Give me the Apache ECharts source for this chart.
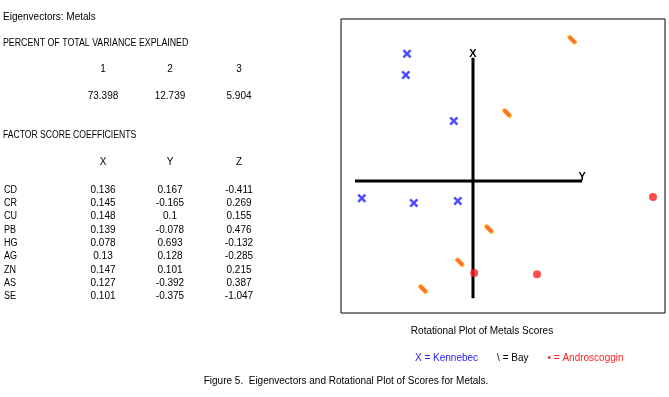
<!DOCTYPE html>
<html>
<head>
<meta charset="utf-8">
<script src="https://cdn.jsdelivr.net/npm/echarts@6/dist/echarts.min.js"></script>
<style>
  html, body { margin: 0; padding: 0; background: #fff; }
  #chart { width: 669px; height: 397px; }
</style>
</head>
<body>
<div id="chart"></div>
<script>
"use strict";

// percent of total variance
var varHeaders = ["1", "2", "3"];
var varValues = ["73.398", "12.739", "5.904"];

// factor score coefficients
var coefHeaders = ["X", "Y", "Z"];
var metals = ["CD", "CR", "CU", "PB", "HG", "AG", "ZN", "AS", "SE"];
var coefX = ["0.136", "0.145", "0.148", "0.139", "0.078", "0.13", "0.147", "0.127", "0.101"];
var coefY = ["0.167", "-0.165", "0.1", "-0.078", "0.693", "0.128", "0.101", "-0.392", "-0.375"];
var coefZ = ["-0.411", "0.269", "0.155", "0.476", "-0.132", "-0.285", "0.215", "0.387", "-1.047"];

// rotational plot scores
var kennebec = [[-1.65, 3.18], [-1.68, 2.65], [-0.48, 1.5], [-2.78, -0.43], [-1.48, -0.55], [-0.38, -0.5]];
var bay = [[2.48, 3.53], [0.85, 1.7], [0.4, -1.2], [-0.33, -2.03], [-1.25, -2.7]];
var androscoggin = [[4.5, -0.4], [0.03, -2.3], [1.6, -2.33]];

// drawn axes of the rotational plot
var hAxisEnds = [[-2.95, 0], [2.73, 0]];
var vAxisEnds = [[0, -2.93], [0, 3.08]];

var chart = echarts.init(document.getElementById("chart"));
var FONT = "Liberation Sans";

function txt(x, y, s, align, sx) {
  return {
    type: "text",
    x: x,
    y: y,
    scaleX: sx || 1,
    style: {
      text: s,
      x: 0,
      y: 0,
      textAlign: align || "left",
      textVerticalAlign: "middle",
      font: "10px '" + FONT + "'",
      fill: "#000"
    }
  };
}

var cols = [103, 170, 239];
var texts = [];
texts.push(txt(3, 17, "Eigenvectors: Metals"));
texts.push(txt(3, 43, "PERCENT OF TOTAL VARIANCE EXPLAINED", "left", 0.88));
varHeaders.forEach(function (h, i) {
  texts.push(txt(cols[i], 69, h, "center"));
  texts.push(txt(cols[i], 96, varValues[i], "center"));
});
texts.push(txt(3, 135, "FACTOR SCORE COEFFICIENTS", "left", 0.86));
coefHeaders.forEach(function (h, i) {
  texts.push(txt(cols[i], 162, h, "center"));
});
metals.forEach(function (m, i) {
  var y = 190 + i * 13.3;
  texts.push(txt(4, y, m, "left", 0.9));
  texts.push(txt(cols[0], y, coefX[i], "center"));
  texts.push(txt(cols[1], y, coefY[i], "center"));
  texts.push(txt(cols[2], y, coefZ[i], "center"));
});
texts.push(txt(482, 331, "Rotational Plot of Metals Scores", "center"));
texts.push(txt(346, 381, "Figure 5.  Eigenvectors and Rotational Plot of Scores for Metals.", "center"));

var xMark = "path://M0,2L2,0L5,3L8,0L10,2L7,5L10,8L8,10L5,7L2,10L0,8L3,5Z";

function axisData(ends, endLabel) {
  return ends.map(function (p, i) {
    var item = { value: p };
    if (i === ends.length - 1) {
      item.label = {
        show: true,
        formatter: endLabel,
        position: "top",
        distance: -2,
        fontFamily: FONT,
        fontSize: 11,
        fontWeight: "bold",
        color: "#000"
      };
    }
    return item;
  });
}

var prefix = { Kennebec: "X = ", Bay: "\\ = ", Androscoggin: "\u2022 = " };

var option = {
  animation: false,
  backgroundColor: "#fff",
  textStyle: { fontFamily: FONT },
  graphic: texts,
  legend: {
    left: 405,
    top: 346,
    icon: "none",
    itemWidth: 0,
    itemGap: 14,
    selectedMode: false,
    formatter: function (name) {
      return prefix[name] + name;
    },
    textStyle: { fontFamily: FONT, fontSize: 10 },
    data: [
      { name: "Kennebec", textStyle: { color: "#2323ff" } },
      { name: "Bay", textStyle: { color: "#000" } },
      { name: "Androscoggin", textStyle: { color: "#ff1f1f" } }
    ]
  },
  grid: {
    left: 341,
    top: 19,
    width: 324,
    height: 294,
    show: true,
    borderColor: "#000",
    borderWidth: 1,
    backgroundColor: "transparent"
  },
  xAxis: {
    type: "value",
    min: -3.3,
    max: 4.8,
    show: false
  },
  yAxis: {
    type: "value",
    min: -3.3,
    max: 4.05,
    show: false
  },
  series: [
    {
      name: "hAxis",
      type: "line",
      data: axisData(hAxisEnds, "Y"),
      symbol: "circle",
      symbolSize: 0.1,
      itemStyle: { color: "#000" },
      lineStyle: { color: "#000", width: 3 },
      z: 1
    },
    {
      name: "vAxis",
      type: "line",
      data: axisData(vAxisEnds, "X"),
      symbol: "circle",
      symbolSize: 0.1,
      itemStyle: { color: "#000" },
      lineStyle: { color: "#000", width: 3 },
      z: 1
    },
    {
      name: "Kennebec",
      type: "scatter",
      data: kennebec,
      symbol: xMark,
      symbolSize: 9,
      itemStyle: { color: "#2323ff" },
      z: 3
    },
    {
      name: "Bay",
      type: "scatter",
      data: bay,
      symbol: "roundRect",
      symbolSize: [10, 4],
      symbolRotate: -45,
      itemStyle: { color: "#ff4a00", borderColor: "#ffb800", borderWidth: 1 },
      z: 3
    },
    {
      name: "Androscoggin",
      type: "scatter",
      data: androscoggin,
      symbol: "circle",
      symbolSize: 8,
      itemStyle: { color: "#ff1f1f" },
      z: 3
    }
  ]
};

chart.setOption(option);
</script>
</body>
</html>
